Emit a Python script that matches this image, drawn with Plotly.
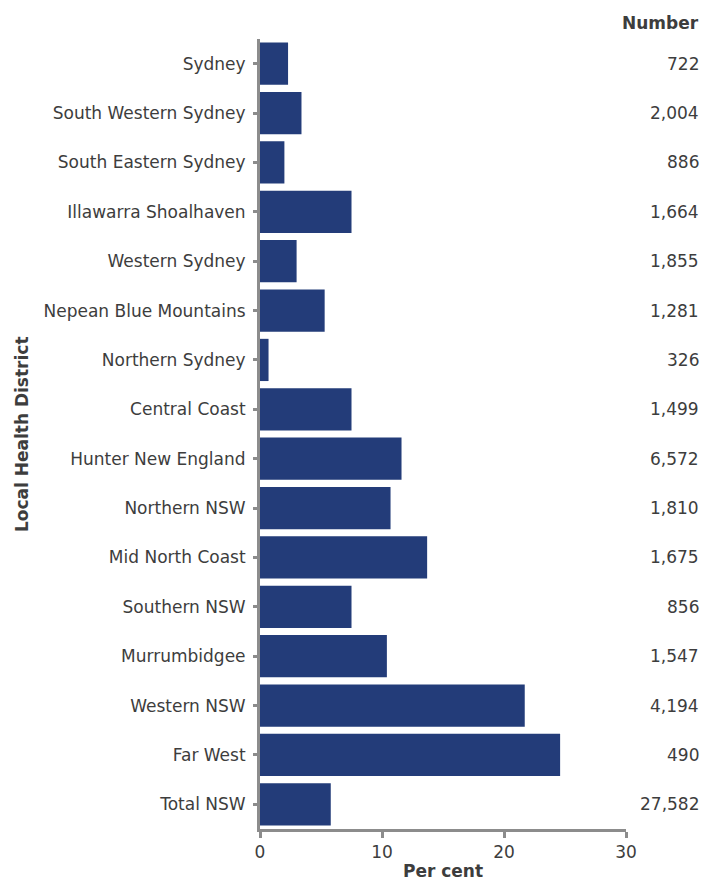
import plotly.graph_objects as go

districts = ["Sydney", "South Western Sydney", "South Eastern Sydney", "Illawarra Shoalhaven",
             "Western Sydney", "Nepean Blue Mountains", "Northern Sydney", "Central Coast",
             "Hunter New England", "Northern NSW", "Mid North Coast", "Southern NSW",
             "Murrumbidgee", "Western NSW", "Far West", "Total NSW"]
per_cent = [2.3, 3.4, 2.0, 7.5, 3.0, 5.3, 0.7, 7.5, 11.6, 10.7, 13.7, 7.5, 10.4, 21.7, 24.6, 5.8]
numbers = ["722", "2,004", "886", "1,664", "1,855", "1,281", "326", "1,499", "6,572",
           "1,810", "1,675", "856", "1,547", "4,194", "490", "27,582"]

FONT = "DejaVu Sans"
TXT = "#3d3d3d"
AX = "#8c8c8c"
FS = 17

fig = go.Figure(go.Bar(
    x=per_cent, y=districts, orientation="h",
    marker=dict(color="#233c79", line=dict(width=0)),
    hoverinfo="x+y",
))

for d, n in zip(districts, numbers):
    fig.add_annotation(x=1.205, xref="paper", y=d, yref="y", text=n, showarrow=False,
                       xanchor="right", font=dict(family=FONT, size=FS, color=TXT))
fig.add_annotation(x=1.205, xref="paper", y=1.0, yref="paper", yshift=4, text="<b>Number</b>",
                   showarrow=False, xanchor="right", yanchor="bottom",
                   font=dict(family=FONT, size=FS, color=TXT))
fig.add_annotation(x=-0.65, xref="paper", y=0.5, yref="paper", text="<b>Local Health District</b>",
                   textangle=-90, showarrow=False, xanchor="center", yanchor="middle",
                   font=dict(family=FONT, size=FS, color=TXT))

fig.update_layout(
    width=709, height=873,
    margin=dict(l=252, r=91, t=31, b=52, autoexpand=False),
    paper_bgcolor="white", plot_bgcolor="white",
    bargap=0.145, showlegend=False,
    font=dict(family=FONT, size=FS, color=TXT),
    xaxis=dict(range=[0, 30], tickvals=[0, 10, 20, 30], showgrid=False, zeroline=False,
               automargin=False,
               showline=True, linecolor=AX, linewidth=3, ticks="outside", ticklen=6,
               tickwidth=3, tickcolor=AX, tickfont=dict(family=FONT, size=FS, color=TXT),
               title=dict(text="<b>Per cent</b>", standoff=7,
                          font=dict(family=FONT, size=FS, color=TXT))),
    yaxis=dict(autorange="reversed", showgrid=False, zeroline=False, automargin=False,
               showline=True, linecolor=AX, linewidth=3, ticks="outside", ticklen=4,
               tickwidth=3, tickcolor=AX, ticklabelstandoff=4,
               tickfont=dict(family=FONT, size=FS, color=TXT)),
)

fig.write_html("out.html")
